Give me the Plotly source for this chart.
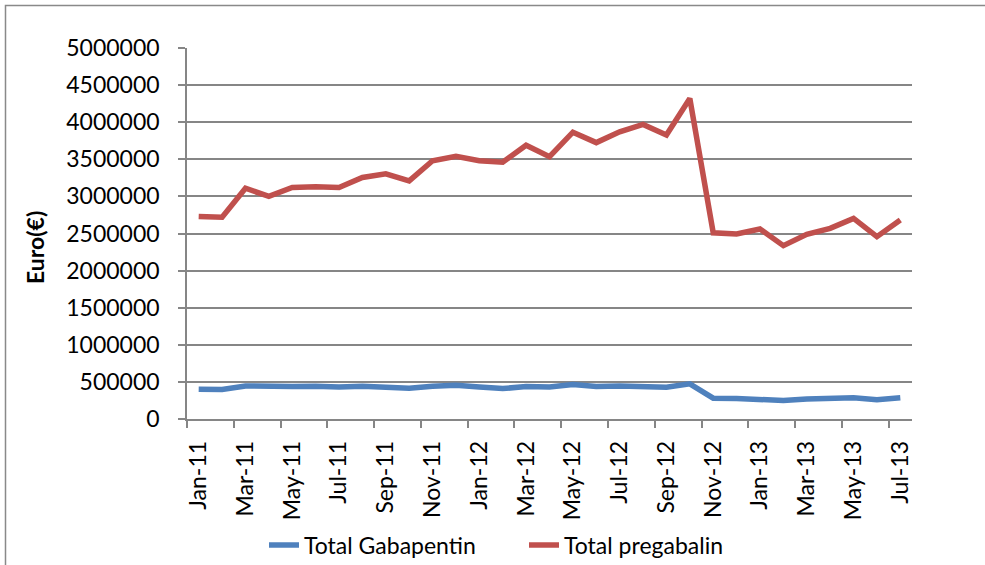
import plotly.graph_objects as go

months = ["Jan-11", "Feb-11", "Mar-11", "Apr-11", "May-11", "Jun-11", "Jul-11", "Aug-11",
          "Sep-11", "Oct-11", "Nov-11", "Dec-11", "Jan-12", "Feb-12", "Mar-12", "Apr-12",
          "May-12", "Jun-12", "Jul-12", "Aug-12", "Sep-12", "Oct-12", "Nov-12", "Dec-12",
          "Jan-13", "Feb-13", "Mar-13", "Apr-13", "May-13", "Jun-13", "Jul-13"]

gabapentin = [402000, 398000, 446000, 435000, 437000, 440000, 430000, 443000,
              438000, 415000, 440000, 455000, 430000, 410000, 437000, 432000,
              464000, 437000, 446000, 437000, 429000, 473000, 281000, 277000,
              268000, 249000, 268000, 268000, 285000, 259000, 285000]

pregabalin = [2730000, 2720000, 3110000, 3000000, 3120000, 3130000, 3120000, 3255000,
              3305000, 3210000, 3480000, 3540000, 3480000, 3460000, 3690000, 3535000,
              3865000, 3725000, 3870000, 3970000, 3827000, 4320000, 2510000, 2493000,
              2560000, 2336000, 2489000, 2570000, 2704000, 2457000, 2682000]

y_ticks = list(range(0, 5000001, 500000))

idx = list(range(len(months)))
label_idx = idx[::2]
label_text = [months[i] for i in label_idx]
boundary_ticks = [i - 0.5 for i in label_idx if i - 0.5 < len(months) - 1]

FONT = "Lato"
GRID = "#868686"

fig = go.Figure()
fig.add_trace(go.Scatter(x=idx, y=gabapentin, name="Total Gabapentin", mode="lines",
                         line=dict(color="#4F81BD", width=5.5, shape="linear")))
fig.add_trace(go.Scatter(x=idx, y=pregabalin, name="Total pregabalin", mode="lines",
                         line=dict(color="#C0504D", width=5.5, shape="linear")))

fig.update_layout(
    width=985, height=565,
    margin=dict(l=187, r=73, t=48, b=146, autoexpand=False),
    paper_bgcolor="white", plot_bgcolor="white",
    font=dict(family=FONT, size=23, color="black"),
    showlegend=True,
    legend=dict(orientation="h", x=(264 - 187) / 725, xanchor="left", y=-0.34, yanchor="middle",
                font=dict(family=FONT, size=23, color="black"), entrywidth=215,
                bgcolor="rgba(0,0,0,0)", traceorder="normal"),
    xaxis=dict(range=[-0.5, len(months) - 0.5], tickmode="array", tickvals=label_idx,
               ticktext=label_text, tickangle=-90, ticks="outside", ticklen=7,
               tickcolor="rgba(0,0,0,0)", showgrid=False, zeroline=False, automargin=False,
               showline=True, linecolor=GRID, linewidth=1.5, ticklabelstandoff=4,
               minor=dict(tickmode="array", tickvals=boundary_ticks, ticks="outside",
                          ticklen=7, tickcolor=GRID, tickwidth=1.5, showgrid=False)),
    yaxis=dict(range=[0, 5000000], tickmode="array", tickvals=y_ticks,
               ticktext=[str(v) for v in y_ticks], ticks="outside", ticklen=7,
               tickcolor=GRID, tickwidth=1.5, showgrid=True, gridcolor=GRID, gridwidth=1.5,
               zeroline=False, showline=True, linecolor=GRID, linewidth=1.5,
               ticklabelstandoff=14, automargin=False),
)

fig.add_annotation(text="<b>Euro(€)</b>", xref="paper", yref="paper",
                   x=(35 - 187) / 725, y=(419 - 248) / 371, textangle=-90,
                   showarrow=False, font=dict(family=FONT, size=23, color="black"),
                   xanchor="center", yanchor="middle")

fig.add_shape(type="rect", xref="paper", yref="paper",
              x0=(5.5 - 187) / 725, x1=(995 - 187) / 725,
              y0=(419 - 575) / 371, y1=(419 - 5.5) / 371,
              line=dict(color="#898989", width=1.5), fillcolor="rgba(0,0,0,0)", layer="below")

fig.write_html("out.html", config={"displayModeBar": False},
               post_script="document.body.style.margin='0';document.body.style.overflow='hidden';")
